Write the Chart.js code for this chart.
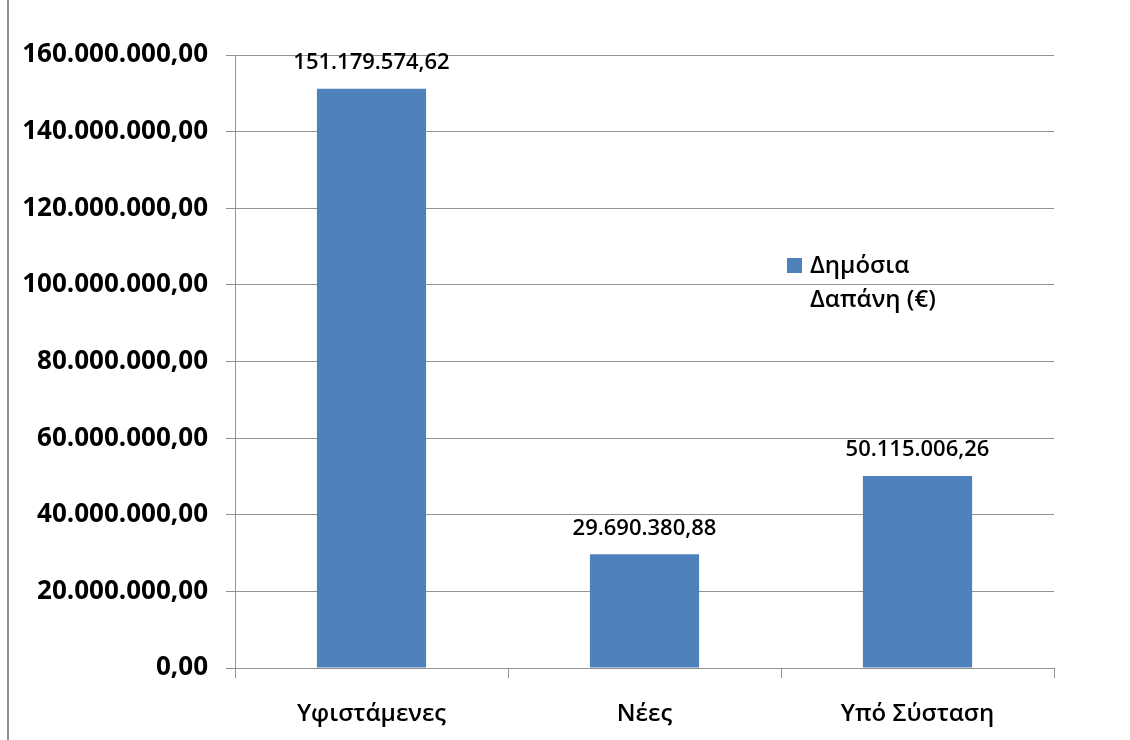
<!DOCTYPE html>
<html>
<head>
<meta charset="utf-8">
<script src="https://cdn.jsdelivr.net/npm/chart.js@4"></script>
<style>
    body { margin: 0; background: #fff; }
    #wrap { position: relative; width: 1130px; height: 740px; }
    #edge { position: absolute; left: 7px; top: 0; width: 2px; height: 740px; background: #8c8c8c; }
</style>
</head>
<body>
<div id="wrap">
    <div id="edge"></div>
    <canvas id="chart"></canvas>
</div>
<script>
const categories = ['Υφιστάμενες', 'Νέες', 'Υπό Σύσταση'];
const publicSpend = [151179574.62, 29690380.88, 50115006.26];
const seriesLabel = 'Δημόσια Δαπάνη (€)';
const legendLines = ['Δημόσια', 'Δαπάνη (€)'];

const barColor = '#4f81bd';
const gridColor = '#939393';
const fontFamily = '"Open Sans", "Noto Sans", sans-serif';

// greek style number: 151.179.574,62
function fmt(v) {
    const parts = Number(v).toFixed(2).split('.');
    const int = parts[0].replace(/\B(?=(\d{3})+(?!\d))/g, '.');
    return int + ',' + parts[1];
}

const valueLabels = {
    id: 'valueLabels',
    afterDatasetsDraw(chart) {
        const ctx = chart.ctx;
        const meta = chart.getDatasetMeta(0);
        ctx.save();
        ctx.font = '600 22px ' + fontFamily;
        ctx.fillStyle = '#000';
        ctx.textAlign = 'center';
        ctx.textBaseline = 'middle';
        meta.data.forEach((bar, i) => {
            ctx.fillText(fmt(chart.data.datasets[0].data[i]), bar.x, bar.y - 26);
        });
        ctx.restore();
    }
};

// legend sits inside the plot area, so draw it by hand
const innerLegend = {
    id: 'innerLegend',
    afterDraw(chart) {
        const ctx = chart.ctx;
        const x = 787, y = 258;
        ctx.save();
        ctx.fillStyle = chart.data.datasets[0].backgroundColor;
        ctx.fillRect(x, y, 15, 15);
        ctx.font = '600 24px ' + fontFamily;
        ctx.fillStyle = '#000';
        ctx.textBaseline = 'middle';
        legendLines.forEach((line, i) => {
            ctx.fillText(line, x + 23, y + 8 + i * 34);
        });
        ctx.restore();
    }
};

new Chart(document.getElementById('chart'), {
    type: 'bar',
    data: {
        labels: categories,
        datasets: [{
            label: seriesLabel,
            data: publicSpend,
            backgroundColor: barColor,
            categoryPercentage: 1,
            barPercentage: 0.4
        }]
    },
    plugins: [valueLabels, innerLegend],
    options: {
        responsive: true,
        maintainAspectRatio: false,
        animation: false,
        layout: {
            padding: { left: 0, right: 76, top: 55, bottom: 0 }
        },
        scales: {
            x: {
                offset: true,
                afterFit: (scale) => { scale.height = 72; },
                grid: {
                    offset: true,
                    drawOnChartArea: false,
                    drawTicks: true,
                    tickLength: 10,
                    color: gridColor
                },
                border: { display: true, color: gridColor },
                ticks: {
                    color: '#000',
                    padding: 22,
                    font: { family: fontFamily, size: 24, weight: 600 }
                }
            },
            y: {
                min: 0,
                max: 160000000,
                afterFit: (scale) => { scale.width = 235; },
                grid: {
                    color: gridColor,
                    tickLength: 9
                },
                border: { display: true, color: gridColor },
                ticks: {
                    stepSize: 20000000,
                    color: '#000',
                    padding: 18,
                    font: { family: fontFamily, size: 26, weight: 'bold' },
                    callback: (value) => fmt(value)
                }
            }
        },
        plugins: {
            legend: { display: false },
            tooltip: { enabled: false }
        }
    }
});
</script>
</body>
</html>
